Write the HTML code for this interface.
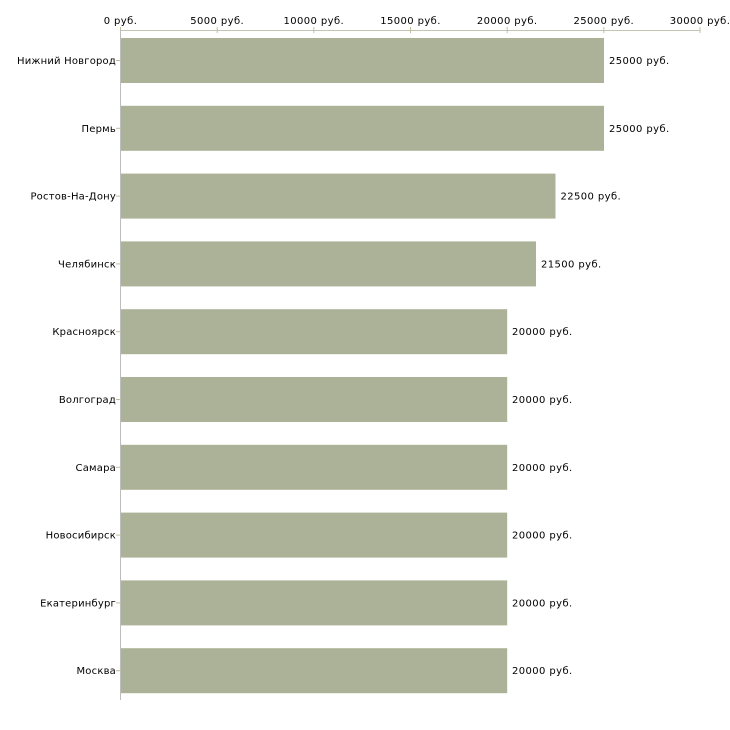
<!DOCTYPE html>
<html>
<head>
<meta charset="utf-8">
<style>
html,body{margin:0;padding:0;background:#fff;}
svg{display:block;}
text{font-family:"DejaVu Sans","Liberation Sans",sans-serif;font-size:10px;fill:#000;}
.cat{letter-spacing:0.2px;}
.num{letter-spacing:0.4px;}
</style>
</head>
<body>
<svg width="730" height="730" viewBox="0 0 730 730" xmlns="http://www.w3.org/2000/svg">
  <!-- top axis -->
  <line x1="120" y1="30.5" x2="700" y2="30.5" stroke="#c4c4b4" stroke-width="1"/>
  <g stroke="#c0c098" stroke-width="1">
    <line x1="120.5" y1="27" x2="120.5" y2="33"/>
    <line x1="217.2" y1="27" x2="217.2" y2="33"/>
    <line x1="313.8" y1="27" x2="313.8" y2="33"/>
    <line x1="410.5" y1="27" x2="410.5" y2="33"/>
    <line x1="507.2" y1="27" x2="507.2" y2="33"/>
    <line x1="603.8" y1="27" x2="603.8" y2="33"/>
    <line x1="700" y1="27" x2="700" y2="33"/>
  </g>
  <g text-anchor="middle" class="num">
    <text x="120.5" y="24">0 руб.</text>
    <text x="217.2" y="24">5000 руб.</text>
    <text x="313.8" y="24">10000 руб.</text>
    <text x="410.5" y="24">15000 руб.</text>
    <text x="507.2" y="24">20000 руб.</text>
    <text x="603.8" y="24">25000 руб.</text>
    <text x="700" y="24">30000 руб.</text>
  </g>

  <!-- bars -->
  <g fill="#acb297">
    <rect x="121" y="38" width="483" height="45"/>
    <rect x="121" y="105.8" width="483" height="45"/>
    <rect x="121" y="173.6" width="434.5" height="45"/>
    <rect x="121" y="241.4" width="415" height="45"/>
    <rect x="121" y="309.2" width="386.2" height="45"/>
    <rect x="121" y="377" width="386.2" height="45"/>
    <rect x="121" y="444.8" width="386.2" height="45"/>
    <rect x="121" y="512.6" width="386.2" height="45"/>
    <rect x="121" y="580.4" width="386.2" height="45"/>
    <rect x="121" y="648.2" width="386.2" height="45"/>
  </g>

  <!-- left axis -->
  <line x1="120.5" y1="30" x2="120.5" y2="700" stroke="#bdbdbd" stroke-width="1"/>
  <g stroke="#c0c098" stroke-width="1">
    <line x1="116" y1="60.5" x2="120" y2="60.5"/>
    <line x1="116" y1="128.3" x2="120" y2="128.3"/>
    <line x1="116" y1="196.1" x2="120" y2="196.1"/>
    <line x1="116" y1="263.9" x2="120" y2="263.9"/>
    <line x1="116" y1="331.7" x2="120" y2="331.7"/>
    <line x1="116" y1="399.5" x2="120" y2="399.5"/>
    <line x1="116" y1="467.3" x2="120" y2="467.3"/>
    <line x1="116" y1="535.1" x2="120" y2="535.1"/>
    <line x1="116" y1="602.9" x2="120" y2="602.9"/>
    <line x1="116" y1="670.7" x2="120" y2="670.7"/>
  </g>
  <g text-anchor="end" class="cat">
    <text x="116" y="64">Нижний Новгород</text>
    <text x="116" y="131.8">Пермь</text>
    <text x="116" y="199.6">Ростов-На-Дону</text>
    <text x="116" y="267.4">Челябинск</text>
    <text x="116" y="335.2">Красноярск</text>
    <text x="116" y="403">Волгоград</text>
    <text x="116" y="470.8">Самара</text>
    <text x="116" y="538.6">Новосибирск</text>
    <text x="116" y="606.4">Екатеринбург</text>
    <text x="116" y="674.2">Москва</text>
  </g>

  <!-- value labels -->
  <g class="num">
    <text x="609" y="64">25000 руб.</text>
    <text x="609" y="131.8">25000 руб.</text>
    <text x="560.5" y="199.6">22500 руб.</text>
    <text x="541" y="267.4">21500 руб.</text>
    <text x="512" y="335.2">20000 руб.</text>
    <text x="512" y="403">20000 руб.</text>
    <text x="512" y="470.8">20000 руб.</text>
    <text x="512" y="538.6">20000 руб.</text>
    <text x="512" y="606.4">20000 руб.</text>
    <text x="512" y="674.2">20000 руб.</text>
  </g>
</svg>
</body>
</html>
